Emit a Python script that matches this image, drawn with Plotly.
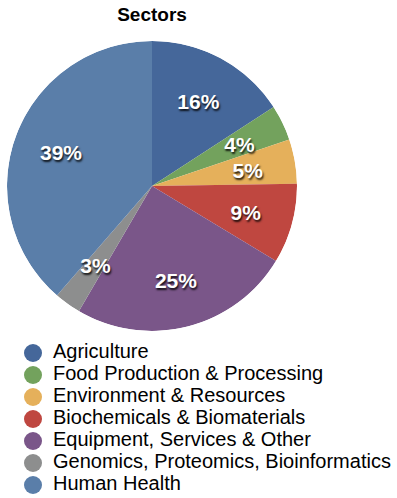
import plotly.graph_objects as go

labels = ["Agriculture", "Food Production & Processing", "Environment & Resources",
          "Biochemicals & Biomaterials", "Equipment, Services & Other",
          "Genomics, Proteomics, Bioinformatics", "Human Health"]
values = [16, 4, 5, 9, 25, 3, 39]
colors = ["#45679a", "#73a25d", "#e5b05b", "#bf4740", "#7a5689", "#8d8e8e", "#5a7ea9"]

# slice geometry derived from the data (clockwise from 12 o'clock)
total = sum(values)
mid_theta, widths = [], []
cum = 0
for v in values:
    mid_theta.append((cum + v / 2) / total * 360)
    widths.append(v / total * 360)
    cum += v
pct_text = [f"{v}%" for v in values]

pie_dom = dict(x=[7/397, 297/397], y=[1-331/498, 1-41/498])
txt_dom = dict(x=[7/397, 297/397], y=[1-334/498, 1-44/498])

fig = go.Figure()
fig.add_trace(go.Barpolar(
    r=[1] * len(values), theta=mid_theta, width=widths, base=0,
    marker=dict(color=colors, line=dict(width=0)), opacity=1,
    text=labels, hoverinfo="text", showlegend=False,
))
fig.add_trace(go.Scatterpolar(
    r=[0.67] * len(values), theta=mid_theta, mode="text", text=pct_text, subplot="polar2",
    textposition="middle center", showlegend=False, hoverinfo="skip", cliponaxis=False,
    textfont=dict(family="Liberation Sans", size=21, color="white", weight="bold",
                  shadow="1px 2px 2px rgba(0,0,0,0.85)"),
))
# custom legend with circle markers
rows = list(range(len(labels)))
fig.add_trace(go.Scatter(x=[0] * len(labels), y=rows, mode="markers",
                         marker=dict(color=colors, size=18, symbol="circle", line=dict(width=0)),
                         showlegend=False, hoverinfo="skip", cliponaxis=False))
fig.add_trace(go.Scatter(x=[20] * len(labels), y=rows, mode="text", text=labels,
                         textposition="middle right", showlegend=False, hoverinfo="skip",
                         cliponaxis=False,
                         textfont=dict(family="Liberation Sans", size=20, color="black")))

polar_common = dict(bgcolor="rgba(0,0,0,0)", hole=0, bargap=0,
                    radialaxis=dict(visible=False, range=[0, 1]),
                    angularaxis=dict(visible=False, rotation=90, direction="clockwise"))
fig.update_layout(
    width=397, height=498, margin=dict(l=0, r=0, t=0, b=0),
    paper_bgcolor="white", plot_bgcolor="rgba(0,0,0,0)",
    title=dict(text="<b>Sectors</b>", x=152/397, xanchor="center",
               yref="container", y=1-14/498, yanchor="middle",
               font=dict(family="Liberation Sans", size=19, color="black")),
    polar=dict(domain=pie_dom, **polar_common),
    polar2=dict(domain=txt_dom, **polar_common),
    xaxis=dict(visible=False, domain=[0, 1], range=[-33, 364], fixedrange=True),
    yaxis=dict(visible=False, domain=[1-497/498, 1-341/498],
               range=[6 + 12/22, -12/22], fixedrange=True),
)
fig.write_html("out.html", config={"displayModeBar": False},
               post_script="document.body.style.margin='0px';")
